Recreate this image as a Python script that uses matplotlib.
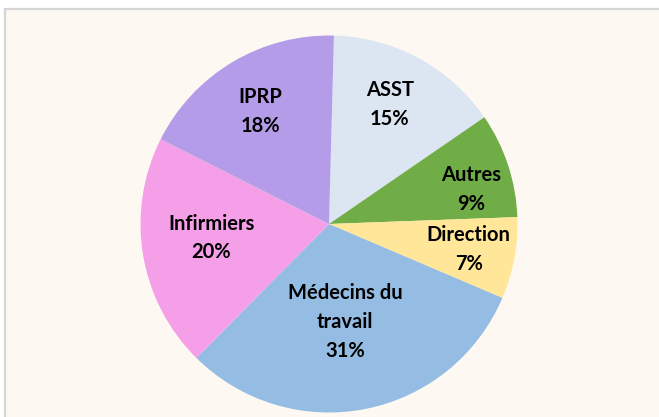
import numpy as np
import matplotlib
matplotlib.use("Agg")
import matplotlib.pyplot as plt
from matplotlib.patches import Rectangle

categories = ["ASST", "Autres", "Direction", "Médecins du\ntravail", "Infirmiers", "IPRP"]
values = [15, 9, 7, 31, 20, 18]
colors = ["#DCE6F2", "#70AD47", "#FFE699", "#95BDE4", "#F59FE8", "#B49CE8"]
label_dist = [0.71, 0.776, 0.753, 0.527, 0.63, 0.70]
label_ang_off = [1.4, -4.5, 0, -1.8, -2.5, 0.6]

W, H = 659, 417
fig = plt.figure(figsize=(W / 100, H / 100), dpi=100, facecolor="white")
fig.patches.append(Rectangle((4.5 / W, -0.05), 1.1, (H - 8.5) / H + 0.05, transform=fig.transFigure,
                             facecolor="#FDF8F2", edgecolor="#D6D6D6", linewidth=1.6, zorder=-10))

cx, cy, r = 329, 224, 188.5
ax = fig.add_axes([(cx - r) / W, (H - cy - r) / H, 2 * r / W, 2 * r / H])
ax.set_zorder(5)
ax.set_facecolor("none")
wedges, _ = ax.pie(values, colors=colors, startangle=88.5, counterclock=False, radius=1,
                   wedgeprops=dict(linewidth=0))
ax.set_xlim(-1, 1)
ax.set_ylim(-1, 1)
ax.set_aspect("equal")
ax.axis("off")

total = sum(values)
for w, cat, v, d, off in zip(wedges, categories, values, label_dist, label_ang_off):
    ang = np.deg2rad((w.theta1 + w.theta2) / 2 + off)
    ax.text(d * np.cos(ang), d * np.sin(ang), f"{cat}\n{round(100 * v / total)}%",
            ha="center", va="center", fontsize=14.5, fontweight="bold", family=["Lato", "DejaVu Sans"],
            linespacing=1.55, color="black")

fig.savefig("out.png", dpi=100, facecolor=fig.get_facecolor())
